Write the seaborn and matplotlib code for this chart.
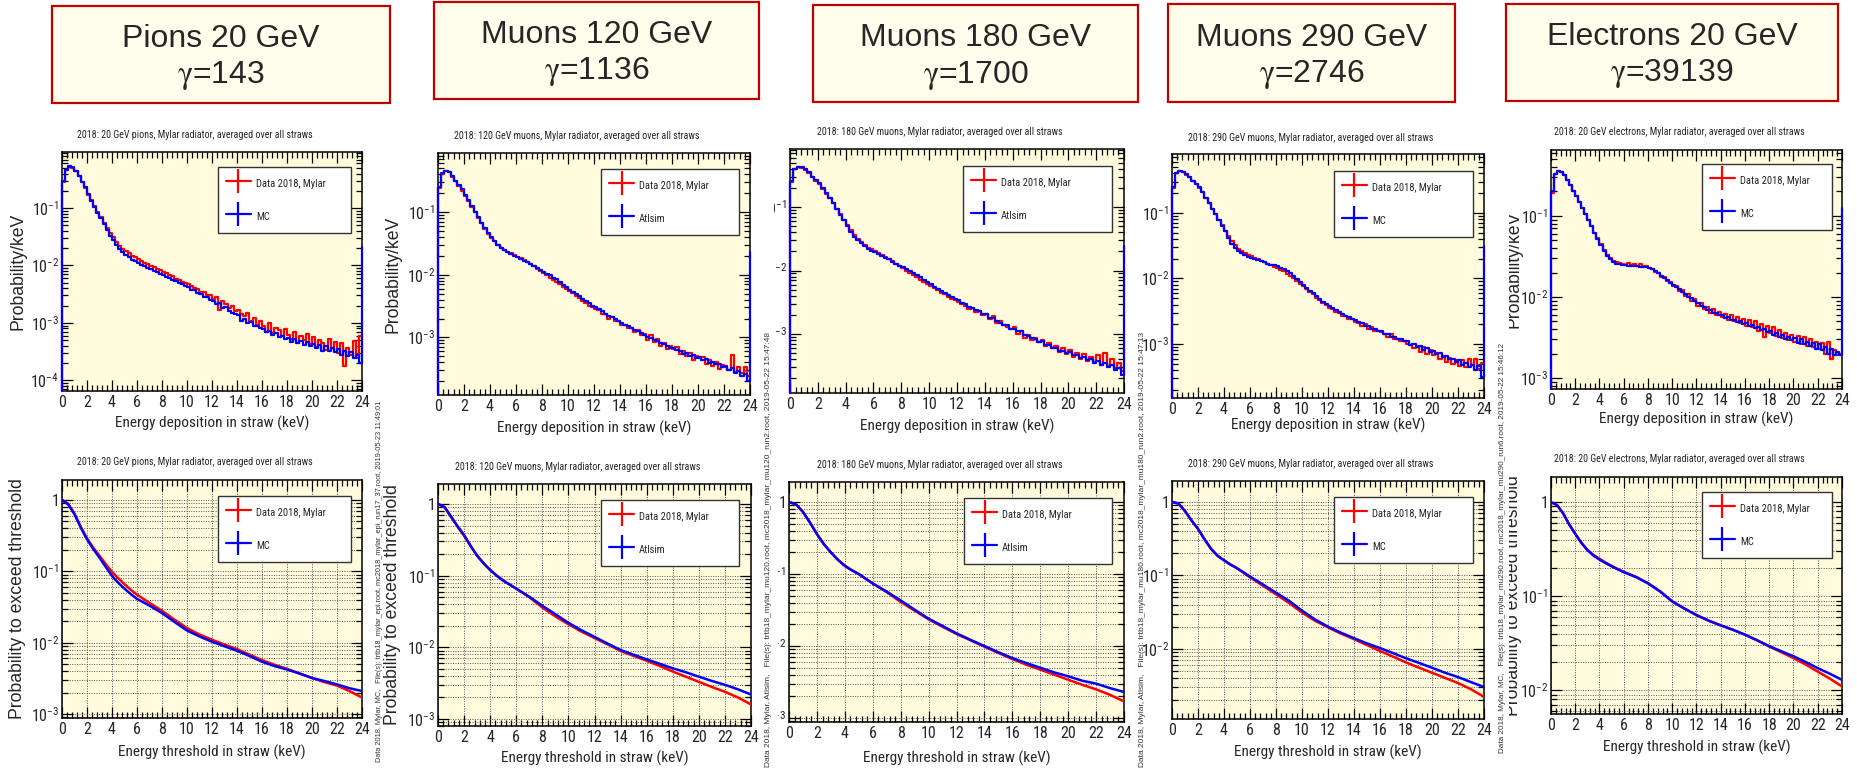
import numpy as np
import matplotlib
matplotlib.use("Agg")
import matplotlib.pyplot as plt
import seaborn as sns
from matplotlib import font_manager
from matplotlib.font_manager import FontProperties
from matplotlib.patches import Rectangle
from matplotlib.lines import Line2D
from matplotlib.ticker import MultipleLocator, LogLocator, NullFormatter, FuncFormatter
from matplotlib.transforms import Bbox

# ----------------------------------------------------------------- data
beam_names = ["Pions 20 GeV", "Muons 120 GeV", "Muons 180 GeV", "Muons 290 GeV", "Electrons 20 GeV"]
gamma_values = ["143", "1136", "1700", "2746", "39139"]
panel_titles = ["2018: 20 GeV pions, Mylar radiator, averaged over all straws",
                "2018: 120 GeV muons, Mylar radiator, averaged over all straws",
                "2018: 180 GeV muons, Mylar radiator, averaged over all straws",
                "2018: 290 GeV muons, Mylar radiator, averaged over all straws",
                "2018: 20 GeV electrons, Mylar radiator, averaged over all straws"]
sim_labels = ["MC", "Atlsim", "Atlsim", "MC", "MC"]
data_label = "Data 2018, Mylar"

# energy-deposition histograms: 96 bins of 0.25 keV between 0 and 24 keV
bin_edges_keV = np.linspace(0, 24, 97)

pions_dep_data = [0.29, 0.46, 0.53, 0.51, 0.44, 0.36, 0.28, 0.22,
                  0.172, 0.136, 0.108, 0.087, 0.070, 0.056, 0.045, 0.037,
                  0.031, 0.026, 0.0222, 0.0196, 0.0176, 0.0162, 0.0146, 0.0139,
                  0.0129, 0.0118, 0.0112, 0.0106, 0.0098, 0.0094, 0.0086, 0.0083,
                  0.0078, 0.0074, 0.0068, 0.0065, 0.0059, 0.0057, 0.0052, 0.0050,
                  0.0047, 0.0044, 0.0040, 0.0039, 0.0034, 0.0035, 0.0030, 0.0031,
                  0.0026, 0.0028, 0.0017, 0.0024, 0.0021, 0.0018, 0.0020, 0.0016,
                  0.0017, 0.0014, 0.0013, 0.0015, 0.0011, 0.0012, 0.00092, 0.0011,
                  0.00088, 0.00070, 0.00098, 0.00066, 0.00080, 0.00074, 0.00058, 0.00078,
                  0.00062, 0.00052, 0.00070, 0.00045, 0.00058, 0.00050, 0.00064, 0.00042,
                  0.00056, 0.00038, 0.00050, 0.00044, 0.00034, 0.00052, 0.00036, 0.00046,
                  0.00030, 0.00044, 0.00018, 0.00036, 0.00028, 0.00048, 0.00024, 0.00058]
pions_dep_mc = [0.30, 0.47, 0.54, 0.52, 0.45, 0.37, 0.29, 0.23,
                0.175, 0.135, 0.105, 0.083, 0.066, 0.052, 0.041, 0.033,
                0.028, 0.023, 0.0195, 0.0170, 0.0152, 0.0138, 0.0127, 0.0118,
                0.0111, 0.0101, 0.0098, 0.0090, 0.0087, 0.0080, 0.0078, 0.0071,
                0.0069, 0.0064, 0.0061, 0.0056, 0.0054, 0.0050, 0.0048, 0.0044,
                0.0043, 0.0038, 0.0037, 0.0033, 0.0032, 0.0028, 0.0028, 0.0025,
                0.0024, 0.0021, 0.0022, 0.0018, 0.0019, 0.0016, 0.0015, 0.0014,
                0.00135, 0.0011, 0.00118, 0.00098, 0.00102, 0.00088, 0.00090, 0.00080,
                0.00079, 0.00068, 0.00072, 0.00061, 0.00066, 0.00056, 0.00060, 0.00052,
                0.00055, 0.00047, 0.00052, 0.00044, 0.00048, 0.00041, 0.00046, 0.00040,
                0.00043, 0.00036, 0.00041, 0.00033, 0.00039, 0.00032, 0.00036, 0.00031,
                0.00035, 0.00028, 0.00033, 0.00026, 0.00031, 0.00024, 0.00028, 0.00020]
pions_dep_mc_overflow = 0.021

mu120_dep_data = [0.24, 0.41, 0.46, 0.43, 0.37, 0.31, 0.26, 0.22,
                  0.18, 0.150, 0.122, 0.100, 0.082, 0.066, 0.054, 0.045,
                  0.039, 0.034, 0.030, 0.027, 0.0252, 0.0232, 0.0220, 0.0206,
                  0.0195, 0.0183, 0.0170, 0.0160, 0.0146, 0.0138, 0.0124, 0.0116,
                  0.0106, 0.0098, 0.0089, 0.0083, 0.0076, 0.0070, 0.0064, 0.0059,
                  0.0055, 0.0051, 0.0045, 0.0043, 0.0038, 0.0036, 0.0032, 0.0031,
                  0.0028, 0.0027, 0.0024, 0.0024, 0.0020, 0.0021, 0.0018, 0.0018,
                  0.0016, 0.0016, 0.0014, 0.0014, 0.0012, 0.0013, 0.0011, 0.00112,
                  0.00092, 0.0011, 0.00084, 0.00094, 0.00074, 0.00082, 0.00066, 0.00074,
                  0.00064, 0.00070, 0.00054, 0.00060, 0.00050, 0.00056, 0.00044, 0.00050,
                  0.00046, 0.00049, 0.00038, 0.00044, 0.00035, 0.00040, 0.00031, 0.00036,
                  0.00034, 0.00030, 0.00052, 0.00028, 0.00034, 0.00027, 0.00033, 0.00024]
mu120_dep_mc = [0.25, 0.42, 0.46, 0.43, 0.38, 0.32, 0.27, 0.23,
                0.19, 0.155, 0.125, 0.102, 0.083, 0.067, 0.055, 0.046,
                0.040, 0.034, 0.030, 0.027, 0.025, 0.023, 0.0215, 0.0200,
                0.0192, 0.0178, 0.0168, 0.0157, 0.0148, 0.0137, 0.0128, 0.0119,
                0.0112, 0.0104, 0.0098, 0.0090, 0.0084, 0.0076, 0.0069, 0.0063,
                0.0058, 0.0053, 0.0049, 0.0045, 0.0041, 0.0038, 0.0035, 0.0032,
                0.0030, 0.0028, 0.0026, 0.0024, 0.0022, 0.0021, 0.0020, 0.0018,
                0.0017, 0.0016, 0.0015, 0.0014, 0.0013, 0.00125, 0.00118, 0.00108,
                0.00102, 0.00096, 0.00090, 0.00086, 0.00080, 0.00077, 0.00072, 0.00068,
                0.00068, 0.00062, 0.00061, 0.00055, 0.00057, 0.00050, 0.00052, 0.00046,
                0.00048, 0.00043, 0.00045, 0.00039, 0.00041, 0.00037, 0.00038, 0.00033,
                0.00035, 0.00030, 0.00032, 0.00027, 0.00029, 0.00024, 0.00026, 0.00020]
mu120_dep_mc_overflow = 0.023

mu180_dep_data = [0.25, 0.40, 0.43, 0.41, 0.38, 0.34, 0.30, 0.26,
                  0.23, 0.195, 0.163, 0.138, 0.114, 0.094, 0.077, 0.063,
                  0.052, 0.043, 0.036, 0.031, 0.028, 0.025, 0.023, 0.0215,
                  0.0203, 0.0190, 0.0178, 0.0166, 0.0152, 0.0140, 0.0128, 0.0119,
                  0.0108, 0.0100, 0.0092, 0.0085, 0.0079, 0.0072, 0.0067, 0.0062,
                  0.0058, 0.0053, 0.0049, 0.0045, 0.0042, 0.0039, 0.0036, 0.0034,
                  0.0032, 0.0030, 0.0028, 0.0025, 0.0026, 0.0022, 0.0023, 0.0020,
                  0.0021, 0.0017, 0.0019, 0.0015, 0.0016, 0.0014, 0.0013, 0.0012,
                  0.0013, 0.0010, 0.0011, 0.00088, 0.00098, 0.00080, 0.00086, 0.00074,
                  0.00080, 0.00064, 0.00072, 0.00060, 0.00064, 0.00052, 0.00060, 0.00048,
                  0.00056, 0.00044, 0.00050, 0.00041, 0.00048, 0.00037, 0.00044, 0.00036,
                  0.00046, 0.00033, 0.00050, 0.00031, 0.00040, 0.00029, 0.00035, 0.00026]
mu180_dep_mc = [0.26, 0.40, 0.43, 0.42, 0.39, 0.35, 0.30, 0.27,
                0.24, 0.20, 0.165, 0.140, 0.115, 0.094, 0.076, 0.062,
                0.051, 0.041, 0.034, 0.030, 0.027, 0.024, 0.022, 0.0205,
                0.0195, 0.0183, 0.0170, 0.0160, 0.0150, 0.0138, 0.0128, 0.0120,
                0.0112, 0.0106, 0.0098, 0.0092, 0.0085, 0.0078, 0.0071, 0.0066,
                0.0061, 0.0056, 0.0052, 0.0047, 0.0045, 0.0041, 0.0038, 0.0036,
                0.0034, 0.0031, 0.0030, 0.0027, 0.0026, 0.0024, 0.0023, 0.0021,
                0.0021, 0.0018, 0.0018, 0.0016, 0.0015, 0.0014, 0.0014, 0.0012,
                0.0012, 0.0011, 0.0011, 0.00096, 0.00094, 0.00086, 0.00084, 0.00076,
                0.00078, 0.00068, 0.00068, 0.00060, 0.00060, 0.00054, 0.00055, 0.00050,
                0.00052, 0.00046, 0.00047, 0.00042, 0.00043, 0.00039, 0.00040, 0.00035,
                0.00038, 0.00032, 0.00035, 0.00030, 0.00032, 0.00027, 0.00029, 0.00023]
mu180_dep_mc_overflow = 0.024

mu290_dep_data = [0.24, 0.40, 0.44, 0.42, 0.38, 0.35, 0.31, 0.28,
                  0.24, 0.205, 0.168, 0.140, 0.115, 0.095, 0.078, 0.065,
                  0.053, 0.044, 0.037, 0.032, 0.028, 0.026, 0.024, 0.0228,
                  0.0218, 0.0206, 0.0196, 0.0185, 0.0175, 0.0166, 0.0158, 0.0150,
                  0.0143, 0.0136, 0.0128, 0.0118, 0.0110, 0.0100, 0.0092, 0.0083,
                  0.0076, 0.0069, 0.0062, 0.0057, 0.0051, 0.0047, 0.0042, 0.0040,
                  0.0036, 0.0034, 0.0031, 0.0030, 0.0027, 0.0027, 0.0024, 0.0024,
                  0.0022, 0.0021, 0.0019, 0.0020, 0.0017, 0.0018, 0.0016, 0.0016,
                  0.0015, 0.0014, 0.0013, 0.0014, 0.0012, 0.0012, 0.0011, 0.0011,
                  0.0010, 0.00098, 0.00088, 0.00094, 0.00076, 0.00090, 0.00070, 0.00080,
                  0.00068, 0.00074, 0.00060, 0.00066, 0.00054, 0.00062, 0.00050, 0.00056,
                  0.00046, 0.00056, 0.00044, 0.00060, 0.00048, 0.00058, 0.00042, 0.00052]
mu290_dep_mc = [0.25, 0.40, 0.43, 0.42, 0.39, 0.35, 0.31, 0.28,
                0.25, 0.21, 0.17, 0.142, 0.116, 0.095, 0.078, 0.064,
                0.052, 0.042, 0.034, 0.029, 0.026, 0.024, 0.0225, 0.0215,
                0.0205, 0.0198, 0.0190, 0.0182, 0.0175, 0.0168, 0.0162, 0.0158,
                0.0152, 0.0146, 0.0140, 0.0132, 0.0122, 0.0110, 0.0098, 0.0088,
                0.0080, 0.0072, 0.0065, 0.0059, 0.0053, 0.0048, 0.0044, 0.0041,
                0.0038, 0.0035, 0.0033, 0.0031, 0.0029, 0.0027, 0.0026, 0.0024,
                0.0023, 0.0022, 0.0021, 0.0019, 0.0019, 0.0017, 0.0017, 0.0016,
                0.0016, 0.0014, 0.0014, 0.0013, 0.0013, 0.0012, 0.0012, 0.0011,
                0.0011, 0.00098, 0.0010, 0.00090, 0.00092, 0.00082, 0.00086, 0.00076,
                0.00078, 0.00070, 0.00072, 0.00064, 0.00066, 0.00058, 0.00060, 0.00053,
                0.00056, 0.00048, 0.00052, 0.00044, 0.00048, 0.00040, 0.00046, 0.00031]
mu290_dep_mc_overflow = 0.031

el_dep_data = [0.19, 0.33, 0.36, 0.35, 0.32, 0.28, 0.24, 0.20,
               0.175, 0.150, 0.125, 0.105, 0.088, 0.074, 0.062, 0.053,
               0.045, 0.038, 0.033, 0.030, 0.0280, 0.0268, 0.0262, 0.0258,
               0.0250, 0.0262, 0.0248, 0.0256, 0.0244, 0.0258, 0.0240, 0.0238,
               0.0226, 0.0222, 0.0204, 0.0200, 0.0178, 0.0176, 0.0156, 0.0152,
               0.0136, 0.0138, 0.0118, 0.0122, 0.0102, 0.0108, 0.0090, 0.0094,
               0.0078, 0.0084, 0.0070, 0.0076, 0.0064, 0.0070, 0.0060, 0.0066,
               0.0056, 0.0062, 0.0052, 0.0060, 0.0050, 0.0056, 0.0048, 0.0054,
               0.0044, 0.0052, 0.0042, 0.0050, 0.0038, 0.0046, 0.0032, 0.0044,
               0.0036, 0.0042, 0.0033, 0.0039, 0.0031, 0.0036, 0.0029, 0.0034,
               0.0028, 0.0033, 0.0026, 0.0032, 0.0025, 0.0030, 0.0024, 0.0028,
               0.0023, 0.0027, 0.0020, 0.0028, 0.0017, 0.0022, 0.0019, 0.0020]
el_dep_mc = [0.20, 0.33, 0.36, 0.35, 0.32, 0.28, 0.24, 0.20,
             0.175, 0.150, 0.126, 0.106, 0.089, 0.074, 0.062, 0.052,
             0.044, 0.037, 0.032, 0.029, 0.0270, 0.0258, 0.0252, 0.0248,
             0.0246, 0.0243, 0.0242, 0.0239, 0.0238, 0.0236, 0.0235, 0.0232,
             0.0228, 0.0220, 0.0208, 0.0196, 0.0183, 0.0171, 0.0160, 0.0150,
             0.0141, 0.0132, 0.0125, 0.0115, 0.0110, 0.0100, 0.0096, 0.0088,
             0.0084, 0.0077, 0.0075, 0.0069, 0.0068, 0.0063, 0.0063, 0.0059,
             0.0059, 0.0055, 0.0056, 0.0052, 0.0052, 0.0049, 0.0050, 0.0046,
             0.0048, 0.0044, 0.0045, 0.0041, 0.0042, 0.0039, 0.0040, 0.0037,
             0.0038, 0.0034, 0.0036, 0.0032, 0.0034, 0.0030, 0.0032, 0.0029,
             0.0031, 0.0027, 0.0030, 0.0026, 0.0028, 0.0025, 0.0027, 0.0023,
             0.0026, 0.0022, 0.0024, 0.0020, 0.0023, 0.0019, 0.0021, 0.0019]
el_dep_mc_overflow = 0.124

# probability to exceed a threshold
threshold_keV = [0, 0.5, 1, 1.5, 2, 2.5, 3, 3.5, 4, 4.5, 5, 5.5, 6,
                 7, 8, 9, 10, 11, 12, 13, 14, 15, 16, 17, 18, 19, 20, 21, 22, 23, 24]
pions_thr_data = [1.0, 0.88, 0.64, 0.42, 0.29, 0.215, 0.165, 0.126, 0.098, 0.080, 0.066, 0.055, 0.047,
                  0.036, 0.028, 0.021, 0.0160, 0.0130, 0.0110, 0.0094, 0.0081, 0.0068, 0.0057, 0.0049,
                  0.0043, 0.0037, 0.0032, 0.0028, 0.0025, 0.0021, 0.0017]
pions_thr_mc = [1.0, 0.86, 0.63, 0.41, 0.28, 0.205, 0.155, 0.115, 0.086, 0.069, 0.057, 0.048, 0.041,
                0.033, 0.026, 0.0195, 0.0148, 0.0122, 0.0103, 0.0089, 0.0077, 0.0065, 0.0054, 0.0047,
                0.0042, 0.0037, 0.0032, 0.0029, 0.0026, 0.0023, 0.0021]
mu120_thr_data = [1.0, 0.90, 0.66, 0.48, 0.36, 0.26, 0.19, 0.148, 0.12, 0.100, 0.086, 0.075, 0.066,
                  0.050, 0.036, 0.027, 0.021, 0.0166, 0.0135, 0.011, 0.0089, 0.0076, 0.0065, 0.0055,
                  0.0046, 0.0039, 0.0033, 0.0028, 0.0024, 0.0020, 0.0016]
mu120_thr_mc = [1.0, 0.91, 0.67, 0.49, 0.37, 0.26, 0.19, 0.149, 0.12, 0.100, 0.085, 0.075, 0.066,
                0.051, 0.038, 0.029, 0.022, 0.0173, 0.014, 0.0113, 0.0092, 0.0079, 0.0068, 0.0059,
                0.0051, 0.0045, 0.0039, 0.0034, 0.0030, 0.0026, 0.0022]
mu180_thr_data = [1.0, 0.93, 0.73, 0.52, 0.36, 0.26, 0.20, 0.158, 0.13, 0.113, 0.100, 0.086, 0.074,
                  0.056, 0.041, 0.031, 0.0235, 0.0185, 0.0147, 0.012, 0.0098, 0.0080, 0.0066, 0.0055,
                  0.0047, 0.0040, 0.0034, 0.0029, 0.0025, 0.0021, 0.0017]
mu180_thr_mc = [1.0, 0.93, 0.73, 0.52, 0.36, 0.26, 0.20, 0.158, 0.13, 0.113, 0.100, 0.086, 0.074,
                0.057, 0.043, 0.032, 0.024, 0.019, 0.015, 0.0122, 0.010, 0.0082, 0.0068, 0.0058,
                0.0050, 0.0043, 0.0038, 0.0033, 0.0030, 0.0026, 0.0023]
mu290_thr_data = [1.0, 0.95, 0.75, 0.56, 0.43, 0.31, 0.23, 0.185, 0.16, 0.14, 0.125, 0.108, 0.094,
                  0.072, 0.055, 0.042, 0.031, 0.024, 0.0195, 0.016, 0.0135, 0.0112, 0.0093, 0.0078,
                  0.0065, 0.0055, 0.0047, 0.0040, 0.0034, 0.0028, 0.0022]
mu290_thr_mc = [1.0, 0.95, 0.75, 0.56, 0.43, 0.31, 0.23, 0.185, 0.16, 0.14, 0.125, 0.11, 0.096,
                0.075, 0.058, 0.045, 0.033, 0.025, 0.020, 0.0165, 0.0139, 0.0118, 0.0102, 0.0087,
                0.0074, 0.0064, 0.0055, 0.0047, 0.0041, 0.0035, 0.0030]
el_thr_data = [1.0, 0.93, 0.76, 0.58, 0.46, 0.37, 0.31, 0.275, 0.25, 0.228, 0.21, 0.195, 0.182,
               0.161, 0.138, 0.113, 0.088, 0.074, 0.063, 0.055, 0.049, 0.044, 0.039, 0.034,
               0.0292, 0.0254, 0.022, 0.0188, 0.0158, 0.0133, 0.011]
el_thr_mc = [1.0, 0.93, 0.76, 0.58, 0.46, 0.37, 0.31, 0.27, 0.245, 0.225, 0.208, 0.193, 0.18,
             0.16, 0.137, 0.112, 0.088, 0.074, 0.063, 0.055, 0.049, 0.044, 0.039, 0.034,
             0.0295, 0.026, 0.023, 0.020, 0.0172, 0.015, 0.0129]

info_texts = ["Data 2018, Mylar, MC,   File(s): trtb18_mylar_epi.root, mc2018_mylar_epi_run17_37.root, 2019-05-23 11:49:01",
              "Data 2018, Mylar, Atlsim,   File(s): trtb18_mylar_mu120.root, mc2018_mylar_mu120_run2.root, 2019-05-22 15:47:48",
              "Data 2018, Mylar, Atlsim,   File(s): trtb18_mylar_mu180.root, mc2018_mylar_mu180_run2.root, 2019-05-22 15:47:13",
              "Data 2018, Mylar, MC,   File(s): trtb18_mylar_mu290.root, mc2018_mylar_mu290_run6.root, 2019-05-22 15:46:12"]

dep_data = [pions_dep_data, mu120_dep_data, mu180_dep_data, mu290_dep_data, el_dep_data]
dep_mc = [pions_dep_mc, mu120_dep_mc, mu180_dep_mc, mu290_dep_mc, el_dep_mc]
dep_overflow = [pions_dep_mc_overflow, mu120_dep_mc_overflow, mu180_dep_mc_overflow,
                mu290_dep_mc_overflow, el_dep_mc_overflow]
thr_data = [pions_thr_data, mu120_thr_data, mu180_thr_data, mu290_thr_data, el_thr_data]
thr_mc = [pions_thr_mc, mu120_thr_mc, mu180_thr_mc, mu290_thr_mc, el_thr_mc]

# ----------------------------------------------------------------- layout (pixels)
W, H = 1858, 770
TOP_RECTS = [(62, 362, 152, 391), (438, 750, 153, 395), (790, 1124, 149, 393),
             (1172, 1484, 154, 398), (1551, 1842, 150, 389)]
BOT_RECTS = [(62, 362, 480, 718), (438, 751, 484, 726), (789, 1124, 482, 722),
             (1172, 1484, 481, 719), (1551, 1842, 477, 714)]
TOP_LEG = [(218, 351, 167, 242), (601, 739, 169, 246), (963, 1112, 166, 242),
           (1334, 1473, 171, 246), (1702, 1832, 164, 239)]
BOT_LEG = [(218, 351, 496, 571), (601, 739, 500, 577), (964, 1112, 498, 574),
           (1334, 1473, 497, 572), (1702, 1832, 492, 567)]
BOXES = [(52, 390, 6, 103), (434, 759, 2, 99), (813, 1138, 5, 102),
         (1168, 1455, 4, 102), (1506, 1838, 4, 101)]
TOP_YLIM = [(6.5e-5, 0.95), (1.2e-4, 0.88), (1.18e-4, 0.82), (1.5e-4, 0.79), (7.3e-4, 0.65)]
BOT_YLIM = [(8.8e-4, 1.9), (8.0e-4, 1.9), (8.8e-4, 1.9), (1.1e-3, 1.93), (5.6e-3, 1.85)]
TOP_TITLE_Y = [135, 136, 132, 138, 132]
BOT_TITLE_Y = [462, 467, 465, 464, 459]
TOP_XLAB_Y = [423, 428, 426, 425, 419]
BOT_XLAB_Y = [752, 758, 758, 752, 747]
INFO_POS = [(380, 762, 5.3), (769, 767, 6.0), (1143, 767, 6.0), (1503, 753, 5.9)]

# ----------------------------------------------------------------- condensed font choice
_ttf = font_manager.fontManager.ttflist
_names = {f.name for f in _ttf}
NARROW_KW = None
for cand in ["Liberation Sans Narrow", "Roboto Condensed", "Noto Sans Condensed",
             "Open Sans Condensed", "DejaVu Sans Condensed"]:
    if cand in _names:
        NARROW_KW = {"family": cand}
        break
if NARROW_KW is None and any(f.name == "DejaVu Sans" and f.stretch == "condensed" for f in _ttf):
    NARROW_KW = {"family": "DejaVu Sans", "stretch": "condensed"}
if NARROW_KW is None:
    NARROW_KW = {"family": "Liberation Sans"}
    NSCALE = 0.86
else:
    NSCALE = 1.0

FS_TITLE = 7.2 * NSCALE
FS_XLAB = 11.0 * NSCALE
FS_TICK = 11.5 * NSCALE
FS_LEG = 7.6 * NSCALE


def nfp(size):
    return FontProperties(size=size, **NARROW_KW)


sns.set_style("ticks")
plt.rcParams["font.family"] = ["Liberation Sans", "DejaVu Sans"]
plt.rcParams["mathtext.fontset"] = "stix"
plt.rcParams["axes.unicode_minus"] = True

AX_BG = "#fffbdc"
BOX_BG = "#fffdeb"
BOX_EDGE = "#c00000"
RED = "#ff0000"
BLUE = "#0000ff"

fig = plt.figure(figsize=(W / 100, H / 100), dpi=100)
fig.patch.set_facecolor("white")


def fx(x):
    return x / W


def fy(y):
    return 1 - y / H


def make_ax(r):
    x0, x1, y0, y1 = r
    return fig.add_axes([fx(x0), fy(y1), (x1 - x0) / W, (y1 - y0) / H])


def log_fmt(v, pos):
    e = int(round(np.log10(v)))
    if e == 0:
        return "1"
    return r"$\mathregular{10^{%d}}$" % e


def style_ax(ax, ylim):
    ax.set_facecolor(AX_BG)
    ax.set_xlim(0, 24)
    ax.set_yscale("log")
    ax.set_ylim(*ylim)
    ax.xaxis.set_major_locator(MultipleLocator(2))
    ax.xaxis.set_minor_locator(MultipleLocator(0.4))
    ax.yaxis.set_major_locator(LogLocator(base=10, numticks=20))
    ax.yaxis.set_minor_locator(LogLocator(base=10, subs=np.arange(2, 10), numticks=20))
    ax.yaxis.set_major_formatter(FuncFormatter(log_fmt))
    ax.yaxis.set_minor_formatter(NullFormatter())
    ax.tick_params(which="both", direction="in", top=True, right=True, width=0.9, color="black")
    ax.tick_params(which="major", length=8)
    ax.tick_params(which="minor", length=4)
    ax.tick_params(axis="x", labelsize=FS_TICK, pad=3)
    ax.tick_params(axis="y", labelsize=FS_TICK, pad=2)
    for s in ax.spines.values():
        s.set_linewidth(1.1)
        s.set_color("black")
    ax.set_xlabel("")
    ax.set_ylabel("")


def add_legend(ax, r, lr, sim_label):
    x0, x1, y0, y1 = r
    lx0, lx1, ly0, ly1 = lr
    bx = (lx0 - x0) / (x1 - x0)
    bw = (lx1 - lx0) / (x1 - x0)
    by = 1 - (ly0 - y0) / (y1 - y0)
    handles = [Line2D([], [], color=RED, lw=1.6, marker="|", ms=17, mew=1.6),
               Line2D([], [], color=BLUE, lw=1.6, marker="|", ms=17, mew=1.6)]
    fs = FS_LEG
    px = fs * 100 / 72
    leg = ax.legend(handles, [data_label, sim_label], loc="upper left",
                    bbox_to_anchor=(bx, by - 0.001, bw, 0.001), mode="expand",
                    borderaxespad=0, frameon=True, fancybox=False, framealpha=1,
                    edgecolor="#333333", facecolor="white", prop=nfp(fs),
                    handlelength=25 / px, handleheight=22 / px, handletextpad=5 / px,
                    labelspacing=16 / px, borderpad=8 / px)
    leg.get_frame().set_linewidth(1.0)


all_axes = []
clip_axes = []
for i in range(5):
    # ---------------- title box
    bx0, bx1, by0, by1 = BOXES[i]
    fig.patches.append(Rectangle((fx(bx0), fy(by1)), (bx1 - bx0) / W, (by1 - by0) / H,
                                 transform=fig.transFigure, facecolor=BOX_BG,
                                 edgecolor=BOX_EDGE, lw=1.6, zorder=1))
    cx = (bx0 + bx1) / 2
    cy = (by0 + by1) / 2
    fig.text(fx(cx), fy(cy - 7.5), beam_names[i], ha="center", va="baseline", fontsize=23)
    fig.text(fx(cx), fy(cy + 29), r"$\mathrm{\gamma}$=" + gamma_values[i],
             ha="center", va="baseline", fontsize=23)

    # ---------------- top: energy deposition
    r = TOP_RECTS[i]
    ax = make_ax(r)
    style_ax(ax, TOP_YLIM[i])
    ylo = TOP_YLIM[i][0]
    xs = np.concatenate([[bin_edges_keV[0]], bin_edges_keV])
    y_red = np.concatenate([[ylo], dep_data[i], [dep_data[i][-1]]])
    y_blue = np.concatenate([[ylo], dep_mc[i], [dep_overflow[i]]])
    sns.lineplot(x=xs, y=y_red, ax=ax, estimator=None, sort=False, drawstyle="steps-post",
                 color=RED, lw=1.6, clip_on=False, zorder=3)
    sns.lineplot(x=xs, y=y_blue, ax=ax, estimator=None, sort=False, drawstyle="steps-post",
                 color=BLUE, lw=1.6, clip_on=False, zorder=4)
    style_ax(ax, TOP_YLIM[i])
    add_legend(ax, r, TOP_LEG[i], sim_labels[i])
    fig.text(fx((r[0] + r[1]) / 2 - 17), fy(TOP_TITLE_Y[i]), panel_titles[i],
             ha="center", va="center", fontproperties=nfp(FS_TITLE))
    fig.text(fx((r[0] + r[1]) / 2), fy(TOP_XLAB_Y[i]), "Energy deposition in straw (keV)",
             ha="center", va="center", fontproperties=nfp(FS_XLAB))
    all_axes.append(ax)
    if i == 2:
        clip_axes.append((ax, 774))

    # ---------------- bottom: probability to exceed threshold
    r = BOT_RECTS[i]
    axb = make_ax(r)
    style_ax(axb, BOT_YLIM[i])
    axb.set_axisbelow(True)
    axb.grid(True, which="major", axis="x", ls=(0, (1, 1.5)), color="#555555", lw=0.7)
    axb.grid(True, which="both", axis="y", ls=(0, (1, 1.5)), color="#555555", lw=0.7)
    sns.lineplot(x=threshold_keV, y=thr_data[i], ax=axb, estimator=None, sort=False,
                 color=RED, lw=1.8, zorder=3)
    sns.lineplot(x=threshold_keV, y=thr_mc[i], ax=axb, estimator=None, sort=False,
                 color=BLUE, lw=1.8, zorder=4)
    style_ax(axb, BOT_YLIM[i])
    add_legend(axb, r, BOT_LEG[i], sim_labels[i])
    fig.text(fx((r[0] + r[1]) / 2 - 17), fy(BOT_TITLE_Y[i]), panel_titles[i],
             ha="center", va="center", fontproperties=nfp(FS_TITLE))
    fig.text(fx((r[0] + r[1]) / 2), fy(BOT_XLAB_Y[i]), "Energy threshold in straw (keV)",
             ha="center", va="center", fontproperties=nfp(FS_XLAB))
    all_axes.append(axb)
    if i == 2:
        clip_axes.append((axb, 778))

    # ---------------- y labels (only the ones visible in the screenshot)
    if i in (0, 1):
        ylx = 18 if i == 0 else 393
        tr = TOP_RECTS[i]
        br = BOT_RECTS[i]
        fig.text(fx(ylx), fy((tr[2] + tr[3]) / 2), "Probability/keV", rotation=90,
                 ha="center", va="center", fontsize=12.7)
        fig.text(fx(ylx), fy((br[2] + br[3]) / 2), "Probability to exceed threshold",
                 rotation=90, ha="center", va="center", fontsize=12.7)
    if i == 4:
        tr = TOP_RECTS[i]
        br = BOT_RECTS[i]
        clipbox = Bbox.from_extents(1509, 0, W, H)
        for yc, txt in (((tr[2] + tr[3]) / 2, "Probability/keV"),
                        ((br[2] + br[3]) / 2, "Probability to exceed threshold")):
            t = fig.text(fx(1514), fy(yc), txt, rotation=90, ha="center", va="center",
                         fontsize=12.7)
            t.set_clip_box(clipbox)
            t.set_clip_on(True)

# ---------------- rotated file-info strings
for (x, yb, fs), txt in zip(INFO_POS, info_texts):
    fig.text(fx(x), fy(yb), txt, rotation=90, ha="center", va="bottom", fontsize=fs,
             color="#333333")

fig.canvas.draw()
for ax in all_axes:
    for lab in ax.get_xticklabels() + ax.get_yticklabels():
        lab.set_fontproperties(nfp(FS_TICK))
for ax, cx in clip_axes:
    cb = Bbox.from_extents(cx, 0, W, H)
    for lab in ax.get_yticklabels():
        lab.set_clip_box(cb)
        lab.set_clip_on(True)

fig.savefig("out.png", dpi=100, facecolor="white")
